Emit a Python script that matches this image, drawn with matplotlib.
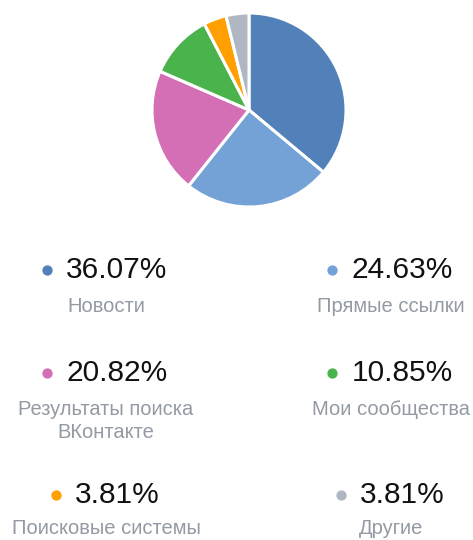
import matplotlib
matplotlib.use('Agg')
import matplotlib.pyplot as plt

# traffic sources
labels = ['Новости', 'Прямые ссылки', 'Результаты поиска\nВКонтакте',
          'Мои сообщества', 'Поисковые системы', 'Другие']
shares = [36.07, 24.63, 20.82, 10.85, 3.81, 3.81]
colors = ['#5181b8', '#74a2d6', '#d46fb5', '#4bb34b', '#ffa000', '#aeb7c2']

W, H = 473, 540
fig = plt.figure(figsize=(W / 100, H / 100), dpi=100)
fig.patch.set_facecolor('white')

# pie
r_px = 100
cx, cy = 249, 110
ax = fig.add_axes([(cx - r_px) / W, 1 - (cy + r_px) / H, 2 * r_px / W, 2 * r_px / H])
ax.pie(shares, colors=colors, startangle=90, counterclock=False, radius=0.97,
       wedgeprops=dict(edgecolor='white', linewidth=2.2))
ax.set_xlim(-1, 1)
ax.set_ylim(-1, 1)
ax.axis('off')

# legend overlay in pixel coords
lg = fig.add_axes([0, 0, 1, 1])
lg.set_xlim(0, W)
lg.set_ylim(H, 0)
lg.axis('off')

col_x = [106, 391]
row_y = [270, 373, 495]
lab_off = [27, 27, 24]
font = ['Liberation Sans', 'DejaVu Sans']

for i, (lab, val, c) in enumerate(zip(labels, shares, colors)):
    col = i % 2
    row = i // 2
    x0 = col_x[col]
    y0 = row_y[row]
    txt = '%.2f%%' % val
    t = lg.text(x0 + 11, y0, txt, ha='center', va='center', fontsize=21.5,
                color='#111111', family=font)
    fig.canvas.draw()
    bb = t.get_window_extent()
    left = bb.x0
    lg.scatter([left - 19], [y0], s=55, color=c, zorder=3, linewidths=0)
    lg.text(x0, y0 + lab_off[row], lab, ha='center', va='top', fontsize=14.5,
            color='#939aa3', family=font, linespacing=1.3)

fig.savefig('out.png', dpi=100, facecolor='white')
